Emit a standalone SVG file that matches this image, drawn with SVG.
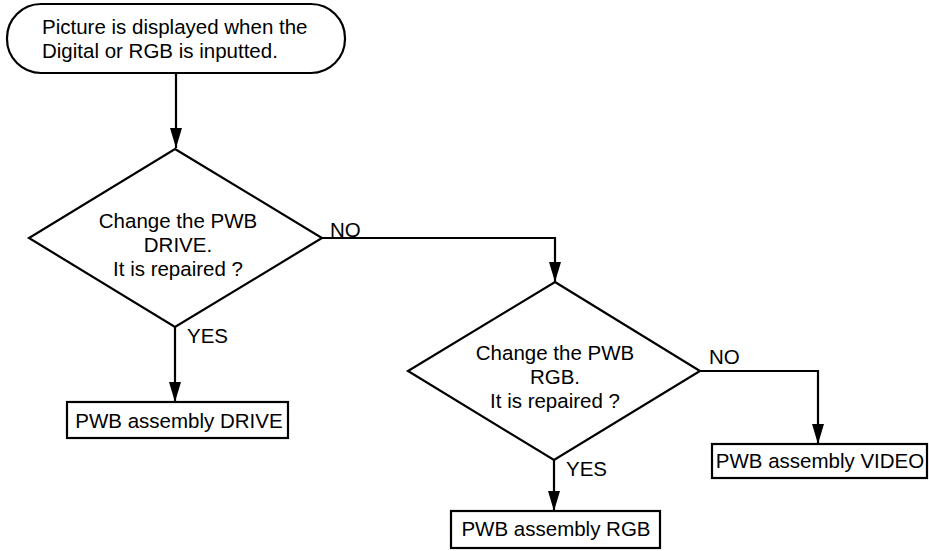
<svg xmlns="http://www.w3.org/2000/svg" width="929" height="551" viewBox="0 0 929 551">
<defs>
<style>
.shape{fill:#fff;stroke:#000;stroke-width:2.2}
.conn{fill:none;stroke:#000;stroke-width:2.2}
text{font-family:"Liberation Sans",Arial,sans-serif;font-size:20.5px;fill:#000}
.c{text-anchor:middle}
</style>
<marker id="arr" viewBox="0 0 20 12" refX="20" refY="6" markerWidth="20" markerHeight="12" markerUnits="userSpaceOnUse" orient="auto">
<path d="M0,0 L20,6 L0,12 z" fill="#000"/>
</marker>
</defs>
<g id="connectors">
<path class="conn" d="M176,73 L176,148" marker-end="url(#arr)"/>
<path class="conn" d="M175,327 L175,402" marker-end="url(#arr)"/>
<path class="conn" d="M322,238 L555,238 L555,282" marker-end="url(#arr)"/>
<path class="conn" d="M554,460 L554,511" marker-end="url(#arr)"/>
<path class="conn" d="M700,371 L818,371 L818,444" marker-end="url(#arr)"/>
<text x="330" y="237">NO</text>
<text x="187" y="343">YES</text>
<text x="709" y="364">NO</text>
<text x="566" y="476">YES</text>
</g>
<g id="start">
<rect class="shape" x="7" y="4" width="338" height="69" rx="34" ry="34"/>
<text x="42" y="34">Picture is displayed when the</text>
<text x="42" y="58">Digital or RGB is inputted.</text>
</g>
<g id="decision1">
<polygon class="shape" points="175,149 322,238 175,327 29,238"/>
<text class="c" x="178" y="228">Change the PWB</text>
<text class="c" x="178" y="252">DRIVE.</text>
<text class="c" x="178" y="276">It is repaired ?</text>
</g>
<g id="drive">
<rect class="shape" x="67" y="402" width="221" height="36"/>
<text class="c" x="179" y="428">PWB assembly DRIVE</text>
</g>
<g id="decision2">
<polygon class="shape" points="555,282 700,371 554,460 408,371"/>
<text class="c" x="555" y="360">Change the PWB</text>
<text class="c" x="555" y="384">RGB.</text>
<text class="c" x="555" y="408">It is repaired ?</text>
</g>
<g id="rgb">
<rect class="shape" x="451" y="511" width="209" height="37"/>
<text class="c" x="556" y="536">PWB assembly RGB</text>
</g>
<g id="video">
<rect class="shape" x="712" y="444" width="215" height="34"/>
<text class="c" x="820" y="468">PWB assembly VIDEO</text>
</g>
</svg>
